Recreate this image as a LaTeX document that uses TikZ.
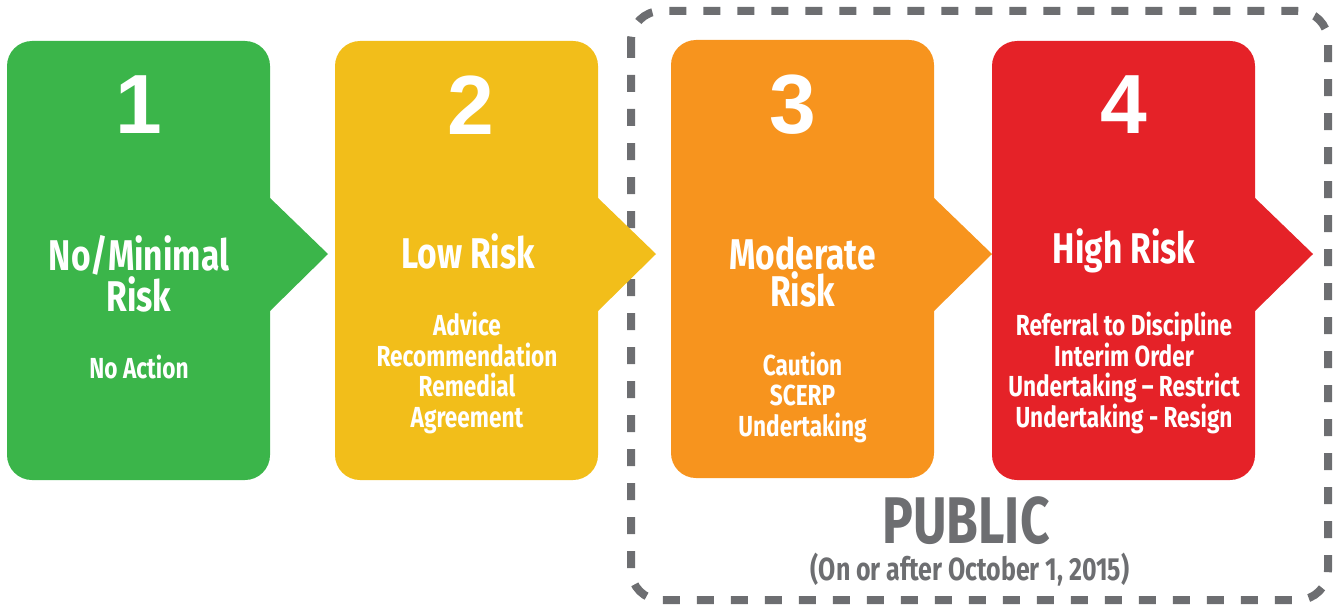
\documentclass[tikz,border=0pt]{standalone}
\usepackage{fontspec}
\setmainfont{Fira Sans}[FakeStretch=0.78]
\newfontfamily\numfont{Liberation Sans}
\usetikzlibrary{positioning}

\definecolor{riskgreen}{HTML}{3BB54A}
\definecolor{riskyellow}{HTML}{F2BE1A}
\definecolor{riskorange}{HTML}{F7941E}
\definecolor{riskred}{HTML}{E52228}
\definecolor{publicgray}{HTML}{6D6E71}

\tikzset{
    riskbox/.style={rounded corners=25pt},
    numlabel/.style={text=white, inner sep=0pt, font=\numfont\bfseries\fontsize{84}{84}\selectfont},
    riskhead/.style={text=white, inner sep=0pt, align=center, font=\bfseries\fontsize{43}{37.5}\selectfont},
    riskitem/.style={text=white, inner sep=0pt, align=center, font=\bfseries\fontsize{29}{30.5}\selectfont},
    publichead/.style={text=publicgray, inner sep=0pt, text depth=0pt, font=\bfseries\fontsize{66}{66}\selectfont},
    publicnote/.style={text=publicgray, inner sep=0pt, font=\bfseries\fontsize{32}{32}\selectfont}
}

\begin{document}
\begin{tikzpicture}[x=1pt, y=-1pt]
    % Page size (1340 x 607)
    \useasboundingbox (0,0) rectangle (1340,607);

    % Dashed frame round the public levels
    \draw[publicgray, line width=8pt, dash pattern=on 17pt off 17pt, rounded corners=30pt]
        (631,11) rectangle (1328,600);

    % Level 1 box with its arrow
    \fill[riskgreen, riskbox] (7,41) rectangle (270,480);
    \fill[riskgreen] (269,197) -- (328,254) -- (269,312) -- cycle;

    % Level 2 box with its arrow
    \fill[riskyellow, riskbox] (335,41) rectangle (598,480);
    \fill[riskyellow] (597,197) -- (656,254) -- (597,312) -- cycle;

    % Level 3 box with its arrow
    \fill[riskorange, riskbox] (671,40) rectangle (934,478);
    \fill[riskorange] (933,197) -- (992,254) -- (933,312) -- cycle;

    % Level 4 box with its arrow
    \fill[riskred, riskbox] (992,41) rectangle (1255,480);
    \fill[riskred] (1254,197) -- (1313,254) -- (1254,312) -- cycle;

    % Level numbers
    \node[numlabel] (num1) at (138.5,105) {1};
    \node[numlabel] (num2) at (471,105) {2};
    \node[numlabel] (num3) at (793,105) {3};
    \node[numlabel] (num4) at (1123.5,105) {4};

    % Risk headings
    \node[riskhead] (head1) at (139,274) {No/Minimal\\Risk};
    \node[riskhead] (head2) at (468,251) {Low Risk};
    \node[riskhead] (head3) at (802.5,272) {Moderate\\Risk};
    \node[riskhead] (head4) at (1124,251) {High Risk};

    % Actions for each level
    \node[riskitem] (act1) at (139,367) {No Action};
    \node[riskitem] (act2) at (467,373) {Advice\\Recommendation\\Remedial\\Agreement};
    \node[riskitem] (act3) at (802.5,397) {Caution\\SCERP\\Undertaking};
    \node[riskitem] (act4) at (1124,373) {Referral to Discipline\\Interim Order\\Undertaking -- Restrict\\Undertaking - Resign};

    % Label of the frame
    \node[publichead] (public) at (966,520) {PUBLIC};
    \node[publicnote] (publicdate) at (970,570) {(On or after October 1, 2015)};
\end{tikzpicture}
\end{document}
